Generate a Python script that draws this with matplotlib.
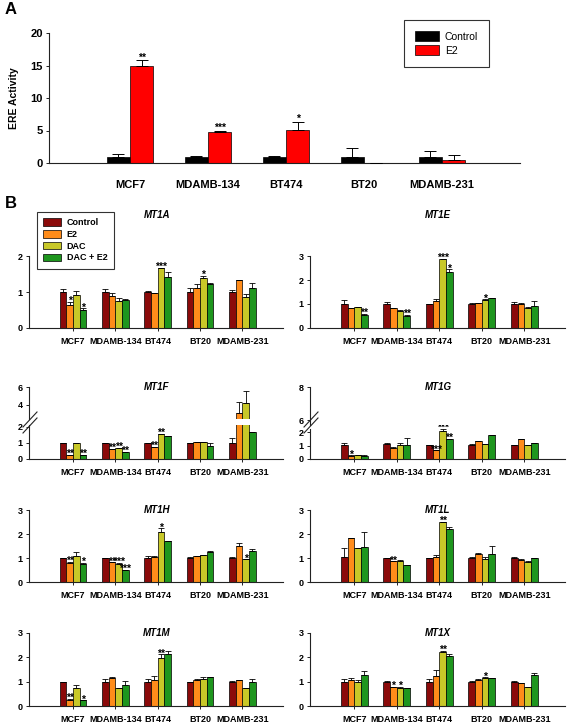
import numpy as np
import matplotlib
matplotlib.use("Agg")
import matplotlib.pyplot as plt
import matplotlib.patches as mpatches
from matplotlib.lines import Line2D

plt.rcParams['font.family'] = ['Liberation Sans', 'DejaVu Sans']

cell_lines = ["MCF7", "MDAMB-134", "BT474", "BT20", "MDAMB-231"]
a_series = ["Control", "E2"]
b_series = ["Control", "E2", "DAC", "DAC + E2"]

# panel A: ERE luciferase activity
ere_ctrl = [1.0, 1.0, 1.0, 1.0, 1.0]
ere_ctrl_err = [0.45, 0.1, 0.05, 1.35, 0.9]
ere_e2 = [15.0, 4.8, 5.1, 0.0, 0.4]
ere_e2_err = [0.8, 0.2, 1.2, 0.0, 0.8]
ere_e2_sig = ["**", "***", "*", "", ""]

# panel B, rows are Control, E2, DAC, DAC + E2
mt1a_vals = [[1.0, 1.0, 1.0, 1.0, 1.0],
             [0.65, 0.90, 0.97, 1.10, 1.33],
             [0.93, 0.76, 1.67, 1.38, 0.87],
             [0.51, 0.79, 1.42, 1.21, 1.10]]
mt1a_err = [[0.07, 0.09, 0.03, 0.10, 0.05],
            [0.07, 0.06, 0.0, 0.13, 0.0],
            [0.09, 0.08, 0.01, 0.06, 0.08],
            [0.04, 0.01, 0.14, 0.04, 0.15]]
mt1a_sig = [["", "", "", "", ""],
            ["*", "", "", "", ""],
            ["", "", "***", "*", ""],
            ["*", "", "", "", ""]]

mt1e_vals = [[1.0, 1.0, 1.0, 1.0, 1.02],
             [0.82, 0.82, 1.12, 1.05, 1.0],
             [0.86, 0.72, 2.86, 1.18, 0.83],
             [0.55, 0.51, 2.35, 1.23, 0.93]]
mt1e_err = [[0.15, 0.10, 0.02, 0.05, 0.06],
            [0.0, 0.02, 0.10, 0.01, 0.05],
            [0.01, 0.03, 0.02, 0.02, 0.04],
            [0.05, 0.04, 0.10, 0.01, 0.19]]
mt1e_sig = [["", "", "", "", ""],
            ["", "", "", "", ""],
            ["", "", "***", "*", ""],
            ["**", "**", "*", "", ""]]

mt1f_vals = [[1.02, 1.02, 1.02, 1.02, 1.02],
             [0.22, 0.62, 0.74, 1.06, 3.1],
             [1.02, 0.66, 1.54, 1.04, 4.2],
             [0.24, 0.42, 1.46, 0.84, 1.68]]
mt1f_err = [[0.0, 0.0, 0.0, 0.0, 0.30],
            [0.03, 0.0, 0.03, 0.02, 1.23],
            [0.0, 0.04, 0.02, 0.0, 1.35],
            [0.0, 0.03, 0.0, 0.16, 0.02]]
mt1f_sig = [["", "", "", "", ""],
            ["**", "**", "**", "", ""],
            ["", "**", "**", "", ""],
            ["**", "**", "", "", ""]]

mt1g_vals = [[1.02, 1.10, 1.05, 1.02, 1.05],
             [0.26, 0.85, 0.64, 1.36, 1.49],
             [0.28, 1.02, 2.08, 1.10, 1.05],
             [0.20, 1.08, 1.49, 1.80, 1.23]]
mt1g_err = [[0.21, 0.08, 0.0, 0.11, 0.0],
            [0.02, 0.05, 0.0, 0.0, 0.0],
            [0.02, 0.21, 0.17, 0.0, 0.0],
            [0.13, 0.46, 0.0, 0.0, 0.0]]
mt1g_sig = [["", "", "", "", ""],
            ["*", "", "***", "", ""],
            ["", "", "***", "", ""],
            ["", "", "**", "", ""]]

mt1h_vals = [[1.0, 1.0, 1.0, 1.0, 1.0],
             [0.79, 0.82, 1.04, 1.10, 1.52],
             [1.10, 0.76, 2.10, 1.12, 0.95],
             [0.75, 0.48, 1.69, 1.27, 1.31]]
mt1h_err = [[0.0, 0.0, 0.10, 0.03, 0.05],
            [0.04, 0.0, 0.06, 0.0, 0.10],
            [0.13, 0.04, 0.13, 0.0, 0.0],
            [0.05, 0.02, 0.03, 0.03, 0.06]]
mt1h_sig = [["", "", "", "", ""],
            ["**", "**", "", "", ""],
            ["", "***", "*", "", "*"],
            ["*", "***", "", "", ""]]

mt1l_vals = [[1.05, 1.0, 1.0, 1.0, 1.0],
             [1.83, 0.86, 1.04, 1.16, 0.93],
             [1.41, 0.88, 2.49, 0.95, 0.84],
             [1.45, 0.72, 2.20, 1.18, 0.98]]
mt1l_err = [[0.36, 0.0, 0.0, 0.05, 0.03],
            [0.02, 0.0, 0.10, 0.06, 0.03],
            [0.02, 0.02, 0.03, 0.11, 0.02],
            [0.65, 0.0, 0.11, 0.34, 0.0]]
mt1l_sig = [["", "", "", "", ""],
            ["", "**", "", "", ""],
            ["", "", "**", "", ""],
            ["", "", "", "", ""]]

mt1m_vals = [[1.0, 1.0, 1.0, 1.0, 1.0],
             [0.26, 1.16, 1.06, 1.06, 1.05],
             [0.76, 0.76, 1.99, 1.09, 0.76],
             [0.23, 0.87, 2.13, 1.20, 0.98]]
mt1m_err = [[0.0, 0.12, 0.10, 0.0, 0.04],
            [0.04, 0.02, 0.17, 0.07, 0.0],
            [0.12, 0.0, 0.13, 0.10, 0.0],
            [0.0, 0.14, 0.15, 0.0, 0.11]]
mt1m_sig = [["", "", "", "", ""],
            ["**", "", "", "", ""],
            ["", "", "**", "", ""],
            ["*", "", "", "", ""]]

mt1x_vals = [[1.0, 1.0, 1.0, 1.0, 1.0],
             [1.08, 0.79, 1.23, 1.06, 0.96],
             [0.99, 0.76, 2.21, 1.16, 0.79],
             [1.27, 0.72, 2.06, 1.17, 1.27]]
mt1x_err = [[0.09, 0.02, 0.09, 0.03, 0.04],
            [0.07, 0.0, 0.27, 0.07, 0.0],
            [0.09, 0.04, 0.06, 0.02, 0.0],
            [0.16, 0.0, 0.07, 0.0, 0.09]]
mt1x_sig = [["", "", "", "", ""],
            ["", "*", "", "", ""],
            ["", "*", "**", "*", ""],
            ["", "", "", "", ""]]

genes = ["MT1A", "MT1E", "MT1F", "MT1G", "MT1H", "MT1L", "MT1M", "MT1X"]
gene_vals = [mt1a_vals, mt1e_vals, mt1f_vals, mt1g_vals, mt1h_vals, mt1l_vals, mt1m_vals, mt1x_vals]
gene_err = [mt1a_err, mt1e_err, mt1f_err, mt1g_err, mt1h_err, mt1l_err, mt1m_err, mt1x_err]
gene_sig = [mt1a_sig, mt1e_sig, mt1f_sig, mt1g_sig, mt1h_sig, mt1l_sig, mt1m_sig, mt1x_sig]

a_colors = ["#000000", "#FF0000"]
b_colors = ["#8B0A0A", "#FF8C1A", "#C8C828", "#1E961E"]

W, H = 567, 723
fig = plt.figure(figsize=(W / 100, H / 100), dpi=100)


def px_axes(left, top, right, bottom):
    return fig.add_axes([left / W, 1 - bottom / H, (right - left) / W, (bottom - top) / H])


def style(ax, size, pad=2):
    for s in ["top", "right"]:
        ax.spines[s].set_visible(False)
    for s in ["left", "bottom"]:
        ax.spines[s].set_linewidth(0.8)
        ax.spines[s].set_color("#222222")
    ax.tick_params(direction="out", length=2.5, width=0.7, labelsize=size, pad=pad, colors="#222222")
    ax.tick_params(axis="y", labelcolor="black")
    ax.tick_params(axis="x", labelcolor="black")


def draw_group(ax, vals, errs, sigs, stars=True):
    x = np.arange(len(cell_lines))
    bw = 0.157
    for i in range(4):
        xi = x + (i - 1.5) * bw
        ax.bar(xi, vals[i], bw, color=b_colors[i], edgecolor="black", linewidth=0.5, zorder=2)
        ax.errorbar(xi, vals[i], yerr=[np.zeros(5), errs[i]], fmt="none", ecolor="black",
                    elinewidth=0.6, capsize=2, capthick=0.6, zorder=3)
        if stars:
            for j in range(5):
                if sigs[i][j]:
                    ax.annotate(sigs[i][j], (xi[j], vals[i][j] + errs[i][j]), xytext=(0, -3),
                                textcoords="offset points", ha="center", va="bottom",
                                fontsize=7.5, fontweight="bold", annotation_clip=False)


# ---------------- panel A ----------------
axA = px_axes(49, 33, 520, 163)
x = np.arange(len(cell_lines))
axA.bar(x - 0.15, ere_ctrl, 0.3, color=a_colors[0], edgecolor="black", linewidth=0.5, zorder=2)
axA.bar(x + 0.15, ere_e2, 0.3, color=a_colors[1], edgecolor="black", linewidth=0.5, zorder=2)
axA.errorbar(x - 0.15, ere_ctrl, yerr=[np.zeros(5), ere_ctrl_err], fmt="none", ecolor="black",
             elinewidth=0.7, capsize=4.5, capthick=0.7, zorder=3)
axA.errorbar(x + 0.15, ere_e2, yerr=[np.zeros(5), ere_e2_err], fmt="none", ecolor="black",
             elinewidth=0.7, capsize=4.5, capthick=0.7, zorder=3)
for j in range(5):
    if ere_e2_sig[j]:
        axA.annotate(ere_e2_sig[j], (x[j] + 0.15, ere_e2[j] + ere_e2_err[j]), xytext=(0, -1.5),
                     textcoords="offset points", ha="center", va="bottom", fontsize=7.5, fontweight="bold")
axA.set_xlim(-1.04, 5.0)
axA.set_ylim(0, 20)
axA.set_yticks([0, 5, 10, 15, 20])
axA.set_xticks(x)
axA.set_xticklabels(cell_lines, fontweight="bold")
axA.set_yticklabels(["0", "5", "10", "15", "20"], fontweight="bold")
style(axA, 8)
axA.tick_params(axis="x", length=0, pad=12)
axA.set_ylabel("ERE Activity", fontsize=7.5, fontweight="bold", labelpad=8)
handlesA = [mpatches.Patch(facecolor=c, edgecolor="black", linewidth=0.5) for c in a_colors]
legA = fig.legend(handlesA, a_series, loc="upper left", bbox_to_anchor=(404 / W, 1 - 20 / H),
                  frameon=True, fancybox=False, edgecolor="black", fontsize=7.5,
                  handlelength=2.3, handleheight=1.0, borderpad=1.1, labelspacing=0.35,
                  handletextpad=0.5, borderaxespad=0)
legA.get_frame().set_linewidth(0.8)

fig.text(5 / W, 1 - 10 / H, "A", fontsize=12, fontweight="bold", va="center")
fig.text(5 / W, 1 - 204 / H, "B", fontsize=12, fontweight="bold", va="center")

# ---------------- panel B ----------------
cols = [(29, 283), (310, 565)]
title_x = [157, 438]
# rows: (top pixel of ylim max, bottom pixel, title y)
row_px = [(256, 328, 215), (387, 459, 387), (510, 582, 510), (633, 706, 633)]
ymax = [2, 3, None, None, 3, 3, 3, 3]

# broken axis settings for MT1F and MT1G: lower ylim, lower top px, upper ylim, upper bottom px
broken = {2: (2.15, 424.6, (2.4, 6.0), 419.0, [4, 6]),
          3: (2.25, 429.0, (5.7, 8.0), 425.0, [6, 8])}


def set_xaxis(ax):
    ax.set_xlim(-1.04, 4.96)
    ax.set_xticks(np.arange(5))
    ax.set_xticklabels(cell_lines, fontweight="bold")
    ax.tick_params(axis="x", length=2.5, pad=4)


for g in range(8):
    row, col = g // 2, g % 2
    left, right = cols[col]
    top, bottom, ty = row_px[row]
    if g in broken:
        lo_max, lo_top, up_lim, up_bot, up_ticks = broken[g]
        ax = px_axes(left, lo_top, right, bottom)
        draw_group(ax, gene_vals[g], gene_err[g], gene_sig[g])
        ax.set_ylim(0, lo_max)
        ax.set_yticks([0, 1, 2])
        ax.set_yticklabels(["0", "1", "2"], fontweight="bold")
        style(ax, 6.5)
        set_xaxis(ax)
        axu = px_axes(left, top, right, up_bot)
        draw_group(axu, gene_vals[g], gene_err[g], gene_sig[g], stars=False)
        axu.set_ylim(*up_lim)
        axu.set_xlim(-1.04, 4.96)
        axu.set_yticks(up_ticks)
        axu.set_yticklabels([str(t) for t in up_ticks], fontweight="bold")
        style(axu, 6.5)
        axu.spines["bottom"].set_visible(False)
        axu.set_xticks([])
        # break marks
        for dy in (0, -6):
            fig.add_artist(Line2D([(left - 6) / W, (left + 8) / W],
                                  [1 - (433 + dy) / H, 1 - (418 + dy) / H],
                                  color="#222222", linewidth=0.8))
    else:
        ax = px_axes(left, top, right, bottom)
        draw_group(ax, gene_vals[g], gene_err[g], gene_sig[g])
        ax.set_ylim(0, ymax[g])
        ax.set_yticks(range(ymax[g] + 1))
        ax.set_yticklabels([str(t) for t in range(ymax[g] + 1)], fontweight="bold")
        style(ax, 6.5)
        set_xaxis(ax)
    fig.text(title_x[col] / W, 1 - ty / H, genes[g], fontsize=7, fontweight="bold",
             fontstyle="italic", ha="center", va="center")

handlesB = [mpatches.Patch(facecolor=c, edgecolor="black", linewidth=0.5) for c in b_colors]
legB = fig.legend(handlesB, b_series, loc="upper left", bbox_to_anchor=(37 / W, 1 - 212 / H),
                  frameon=True, fancybox=False, edgecolor="black",
                  prop={"size": 6.5, "weight": "bold"},
                  handlelength=2.0, handleheight=0.9, borderpad=0.7, labelspacing=0.3,
                  handletextpad=0.6, borderaxespad=0)
legB.get_frame().set_linewidth(0.8)

fig.savefig("out.png", dpi=100)
